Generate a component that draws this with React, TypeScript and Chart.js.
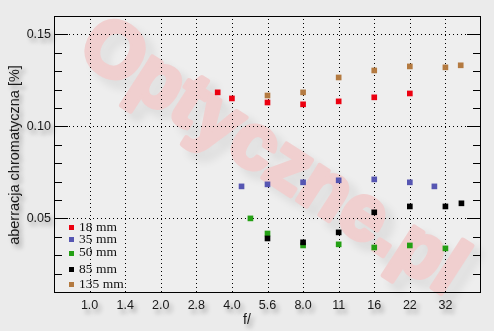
import React, { useEffect, useRef } from "react";
import { Chart, registerables } from "chart.js";

Chart.register(...registerables);

// f-stop tick labels (positions 0..10 on the stop scale)
const fStopLabels = ["1.0", "1.4", "2.0", "2.8", "4.0", "5.6", "8.0", "11", "16", "22", "32"];
const yMajorTicks = [0.05, 0.1, 0.15];
const yMinorTicks = [0.02, 0.03, 0.04, 0.06, 0.07, 0.08, 0.09, 0.11, 0.12, 0.13, 0.14];

// series (x = position on the f-stop scale, y = aberration [%])
const x18 = [3.6, 4, 5, 6, 7, 8, 9];
const y18 = [0.1185, 0.1152, 0.113, 0.112, 0.1136, 0.1158, 0.1179];
const x35 = [4.27, 5, 6, 7, 8, 9, 9.69];
const y35 = [0.0674, 0.0685, 0.0696, 0.0707, 0.0712, 0.0696, 0.0674];
const x50 = [4.52, 5, 6, 7, 8, 9, 10];
const y50 = [0.05, 0.0418, 0.0353, 0.0359, 0.0342, 0.0353, 0.0337];
const x85 = [5, 6, 7, 8, 9, 10, 10.45];
const y85 = [0.0391, 0.037, 0.0424, 0.0533, 0.0565, 0.0565, 0.0582];
const x135 = [5, 6, 7, 8, 9, 10, 10.43];
const y135 = [0.1168, 0.1185, 0.1266, 0.1304, 0.1326, 0.1321, 0.1332];

const seriesLabels = ["18 mm", "35 mm", "50 mm", "85 mm", "135 mm"];
const seriesColors = ["#ec0010", "#5656b2", "#24a014", "#000000", "#b47a40"];

const yTitle = "aberracja chromatyczna [%]";
const xTitle = "f/";
const watermark = "Optyczne.pl";

const pts = (xs: number[], ys: number[]) => xs.map((x, i) => ({ x, y: ys[i] }));

export default function App() {
  const ref = useRef<HTMLCanvasElement>(null);

  useEffect(() => {
    const canvas = ref.current!;
    const xsAll = [x18, x35, x50, x85, x135];
    const ysAll = [y18, y35, y50, y85, y135];
    const orders = [0, 0, 2, 1, 0];

    const decor = {
      id: "decor",
      beforeDraw(chart: any) {
        const { ctx, chartArea: a, width, height } = chart;
        ctx.save();
        ctx.fillStyle = "#ebebeb";
        ctx.fillRect(0, 0, width, height);
        ctx.fillStyle = "#eeeeee";
        ctx.fillRect(a.left, a.top, a.right - a.left, a.bottom - a.top);
        // watermark
        ctx.translate(272, 158);
        ctx.rotate((33 * Math.PI) / 180);
        ctx.font = 'bold 78px "Liberation Sans", Arial, sans-serif';
        ctx.textAlign = "center";
        ctx.textBaseline = "middle";
        ctx.lineJoin = "round";
        ctx.shadowColor = "rgba(0,0,0,0.10)";
        ctx.shadowBlur = 8;
        ctx.shadowOffsetX = 8;
        ctx.shadowOffsetY = 8;
        ctx.fillStyle = "#f0cfcf";
        ctx.strokeStyle = "#f0cfcf";
        ctx.lineWidth = 5;
        ctx.strokeText(watermark, 0, 0);
        ctx.shadowColor = "transparent";
        ctx.fillText(watermark, 0, 0);
        ctx.restore();
      },
      beforeDatasetsDraw(chart: any) {
        const { ctx, chartArea: a, scales } = chart;
        const xs = scales.x, ys = scales.y;
        ctx.save();
        ctx.strokeStyle = "#000";
        ctx.lineWidth = 1;
        ctx.setLineDash([1, 3]);
        fStopLabels.forEach((_, i) => {
          const px = Math.round(xs.getPixelForValue(i)) + 0.5;
          ctx.beginPath();
          ctx.moveTo(px, a.top + 3);
          ctx.lineTo(px, a.bottom);
          ctx.stroke();
        });
        yMajorTicks.forEach((v) => {
          const py = Math.round(ys.getPixelForValue(v)) + 0.5;
          ctx.beginPath();
          ctx.moveTo(a.left + 15, py);
          ctx.lineTo(a.right - 15, py);
          ctx.stroke();
        });
        ctx.restore();
      },
      afterDraw(chart: any) {
        const { ctx, chartArea: a, scales, width } = chart;
        const xs = scales.x, ys = scales.y;
        ctx.save();
        // border
        ctx.strokeStyle = "#000";
        ctx.lineWidth = 1;
        ctx.strokeRect(Math.round(a.left) + 0.5, Math.round(a.top) + 0.5, Math.round(a.right - a.left) - 1, Math.round(a.bottom - a.top));
        // inward ticks
        const tick = (v: number, len: number) => {
          const py = Math.round(ys.getPixelForValue(v)) + 0.5;
          ctx.beginPath();
          ctx.moveTo(a.left, py);
          ctx.lineTo(a.left + len, py);
          ctx.moveTo(a.right, py);
          ctx.lineTo(a.right - len, py);
          ctx.stroke();
        };
        yMajorTicks.forEach((v) => tick(v, 14));
        yMinorTicks.forEach((v) => tick(v, 8));

        // labels with shadow
        ctx.shadowColor = "rgba(0,0,0,0.35)";
        ctx.shadowBlur = 4;
        ctx.shadowOffsetX = 3;
        ctx.shadowOffsetY = 4;
        ctx.fillStyle = "#1a1a1a";
        ctx.font = '12.5px "Liberation Sans", Arial, sans-serif';
        ctx.textAlign = "right";
        ctx.textBaseline = "middle";
        yMajorTicks.forEach((v) => {
          ctx.fillText(v.toFixed(2), a.left - 3, ys.getPixelForValue(v) + 0.5);
        });
        ctx.textAlign = "center";
        fStopLabels.forEach((lab, i) => {
          ctx.fillText(lab, xs.getPixelForValue(i), a.bottom + 14);
        });
        ctx.font = '14px "Liberation Sans", Arial, sans-serif';
        ctx.fillText(xTitle, width / 2, a.bottom + 28);
        ctx.save();
        ctx.translate(15, (a.top + a.bottom) / 2 + 1);
        ctx.rotate(-Math.PI / 2);
        ctx.font = '14.5px "Liberation Sans", Arial, sans-serif';
        ctx.fillText(yTitle, 0, 0);
        ctx.restore();

        // legend
        ctx.shadowColor = "transparent";
        ctx.shadowBlur = 0;
        ctx.shadowOffsetX = 0;
        ctx.shadowOffsetY = 0;
        const offs = [65, 52.7, 39.3, 23, 7.7];
        ctx.font = '13.5px "Liberation Serif", "Times New Roman", serif';
        ctx.textAlign = "left";
        chart.data.datasets.forEach((ds: any, i: number) => {
          const cy = a.bottom - offs[i];
          ctx.fillStyle = ds.backgroundColor;
          ctx.fillRect(a.left + 15, Math.round(cy - 2), 5, 5);
          ctx.fillStyle = "#111";
          ctx.fillText(ds.label, a.left + 25, cy);
        });
        ctx.restore();
      },
    };

    const chart = new Chart(canvas, {
      type: "scatter",
      data: {
        datasets: seriesLabels.map((label, i) => ({
          label,
          data: pts(xsAll[i], ysAll[i]),
          backgroundColor: seriesColors[i],
          borderColor: seriesColors[i],
          borderWidth: 0,
          pointStyle: "rect",
          pointRadius: 4,
          order: orders[i],
        })),
      },
      options: {
        responsive: false,
        devicePixelRatio: 1,
        animation: false,
        layout: { padding: { left: 54, right: 13, top: 16, bottom: 39 } },
        plugins: { legend: { display: false }, tooltip: { enabled: false } },
        scales: {
          x: { type: "linear", min: -1, max: 11, display: false },
          y: { type: "linear", min: 0.01, max: 0.16, display: false },
        },
      },
      plugins: [decor],
    });
    return () => chart.destroy();
  }, []);

  return (
    <div style={{ position: "absolute", left: 0, top: 0, width: 494, height: 331 }}>
      <canvas ref={ref} width={494} height={331} style={{ width: 494, height: 331, display: "block" }} />
    </div>
  );
}
